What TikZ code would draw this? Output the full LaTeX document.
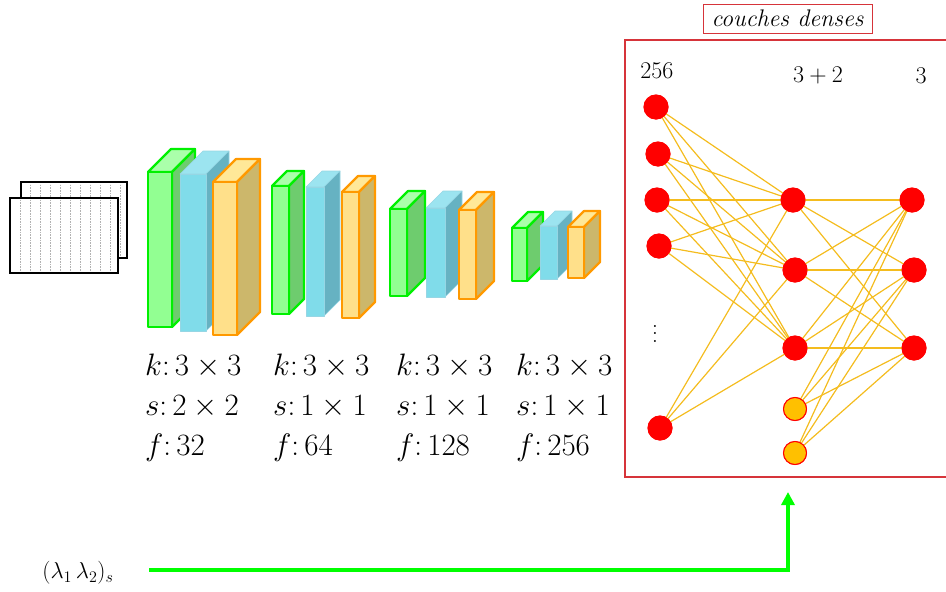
\RequirePackage{fix-cm}
\documentclass[tikz,border=0pt]{standalone}
\usepackage{amsmath,amssymb}
\usepackage{xcolor}
\usepackage{tikz}
\usetikzlibrary{calc,arrows.meta,positioning}
\definecolor{convGreenEdge}{RGB}{0,240,0}
\definecolor{convGreenFront}{RGB}{146,255,146}
\definecolor{convGreenSide}{RGB}{110,204,110}
\definecolor{convGreenTop}{RGB}{170,255,170}
\definecolor{convBlueEdge}{RGB}{150,214,228}
\definecolor{convBlueFront}{RGB}{128,220,234}
\definecolor{convBlueSide}{RGB}{102,178,194}
\definecolor{convBlueTop}{RGB}{156,228,240}
\definecolor{convOrangeEdge}{RGB}{255,153,0}
\definecolor{convOrangeFront}{RGB}{255,224,138}
\definecolor{convOrangeSide}{RGB}{204,183,107}
\definecolor{convOrangeTop}{RGB}{255,232,152}
\definecolor{denseRed}{RGB}{255,0,0}
\definecolor{denseLink}{RGB}{244,188,30}
\definecolor{denseFrame}{RGB}{214,52,58}
\definecolor{biasOrange}{RGB}{255,192,0}
\definecolor{feedGreen}{RGB}{0,255,0}

% x, top y, width, height, depth, colour
\newcommand{\featmap}[6]{%
  \filldraw[edge#6, fill=conv#6Top] (#1,#2) -- ++(#5,-#5) -- ++(#3,0) -- ++(-#5,#5) -- cycle;
  \filldraw[edge#6, fill=conv#6Side] (#1+#3,#2) -- ++(#5,-#5) -- ++(0,#4) -- ++(-#5,#5) -- cycle;
  \filldraw[edge#6, fill=conv#6Front] (#1,#2) rectangle ++(#3,#4);
}

\begin{document}
\begin{tikzpicture}[x=1pt,y=-1pt,
  edgeGreen/.style={draw=convGreenEdge, line width=2.2pt, line join=round},
  edgeBlue/.style={draw=convBlueEdge, line width=0.6pt, line join=round},
  edgeOrange/.style={draw=convOrangeEdge, line width=2.2pt, line join=round},
  sheet/.style={fill=white, draw=black, line width=1.2pt},
  hyper/.style={anchor=base west, inner sep=0pt, font=\fontsize{31}{34}\selectfont},
  neuron/.style={circle, fill=denseRed, minimum size=25pt, inner sep=0pt},
  bias/.style={circle, fill=biasOrange, draw=denseRed, line width=1pt, minimum size=23pt, inner sep=0pt},
  link/.style={draw=denseLink, line width=1.2pt},
  count/.style={anchor=base, inner sep=0pt, font=\fontsize{24}{26}\selectfont}]
\useasboundingbox (0,0) rectangle (946,592);

% input images
\filldraw[sheet] (21,182) rectangle (127,258);
\draw[gray!60, densely dotted, line width=0.6pt, step=10] (23,184) grid (125,256);
\filldraw[sheet] (10,198) rectangle (118,273);
\draw[gray!60, densely dotted, line width=0.6pt, step=10] (12,200) grid (116,271);

% convolution blocks
\featmap{148}{172}{24}{155}{23}{Green}
\featmap{180}{174}{26}{157}{23}{Blue}
\featmap{213}{182}{24}{153}{23}{Orange}

\featmap{272}{186}{17}{128}{15}{Green}
\featmap{306}{187}{18}{129}{16}{Blue}
\featmap{342}{192}{17}{126}{16}{Orange}

\featmap{390}{209}{17}{87}{18}{Green}
\featmap{426}{208}{19}{89}{17}{Blue}
\featmap{459}{210}{17}{89}{18}{Orange}

\featmap{512}{228}{15}{53}{16}{Green}
\featmap{540}{226}{17}{53}{15}{Blue}
\featmap{568}{227}{16}{51}{16}{Orange}

% hyperparameters
\foreach \x/\s/\f [count=\i] in {145/2\times 2/32, 273/1\times 1/64, 396/1\times 1/128, 516/1\times 1/256} {
  \node[hyper] (kern\i) at (\x,375) {$k{:}\,3\times 3$};
  \node[hyper] (strd\i) at (\x,415) {$s{:}\,\s$};
  \node[hyper] (filt\i) at (\x,455) {$f{:}\,\f$};
}

% dense part
\draw[denseFrame, line width=1.6pt] (946,40) -- (625,40) -- (625,477) -- (946,477);
\node[draw=denseFrame, line width=1pt, inner sep=2pt, minimum width=169pt, minimum height=29pt,
  font=\fontsize{24}{26}\selectfont\itshape] (title) at (787.5,18.5) {couches denses};

\node[count] (nIn) at (657,78) {$256$};
\node[count] (nHid) at (818,82) {$3+2$};
\node[count] (nOut) at (921,83) {$3$};

\node[neuron] (in1) at (656,107) {};
\node[neuron] (in2) at (658,154) {};
\node[neuron] (in3) at (657,200) {};
\node[neuron] (in4) at (659,246) {};
\node[neuron] (in5) at (660,428) {};
\node[inner sep=0pt] (dots) at (655,328) {\scalebox{1.9}{$\vdots$}};

\node[neuron] (h1) at (793,200) {};
\node[neuron] (h2) at (795,270) {};
\node[neuron] (h3) at (795,348) {};
\node[bias] (h4) at (795,409) {};
\node[bias] (h5) at (795,453) {};

\node[neuron] (o1) at (912,200) {};
\node[neuron] (o2) at (914,270) {};
\node[neuron] (o3) at (914,348) {};

\foreach \i in {1,...,5}
  \foreach \j in {1,2,3}
    \draw[link] (in\i.center) -- (h\j.center);
\foreach \i in {1,...,5}
  \foreach \j in {1,2,3}
    \draw[link] (h\i.center) -- (o\j.center);
\foreach \n in {in1,in2,in3,in4,in5,h1,h2,h3,o1,o2,o3}
  \node[neuron] at (\n) {};
\node[bias] at (h4) {};
\node[bias] at (h5) {};

% scalar input
\node[inner sep=0pt, font=\fontsize{23}{26}\selectfont] (lam) at (78,573) {$(\lambda_1\,\lambda_2)_s$};
\coordinate (denseIn) at (788,492);
\draw[feedGreen, line width=4pt, -{Triangle[length=13pt, width=13pt]}]
  (149,570) -- (denseIn |- 0,570) -- (denseIn);
\end{tikzpicture}
\end{document}
